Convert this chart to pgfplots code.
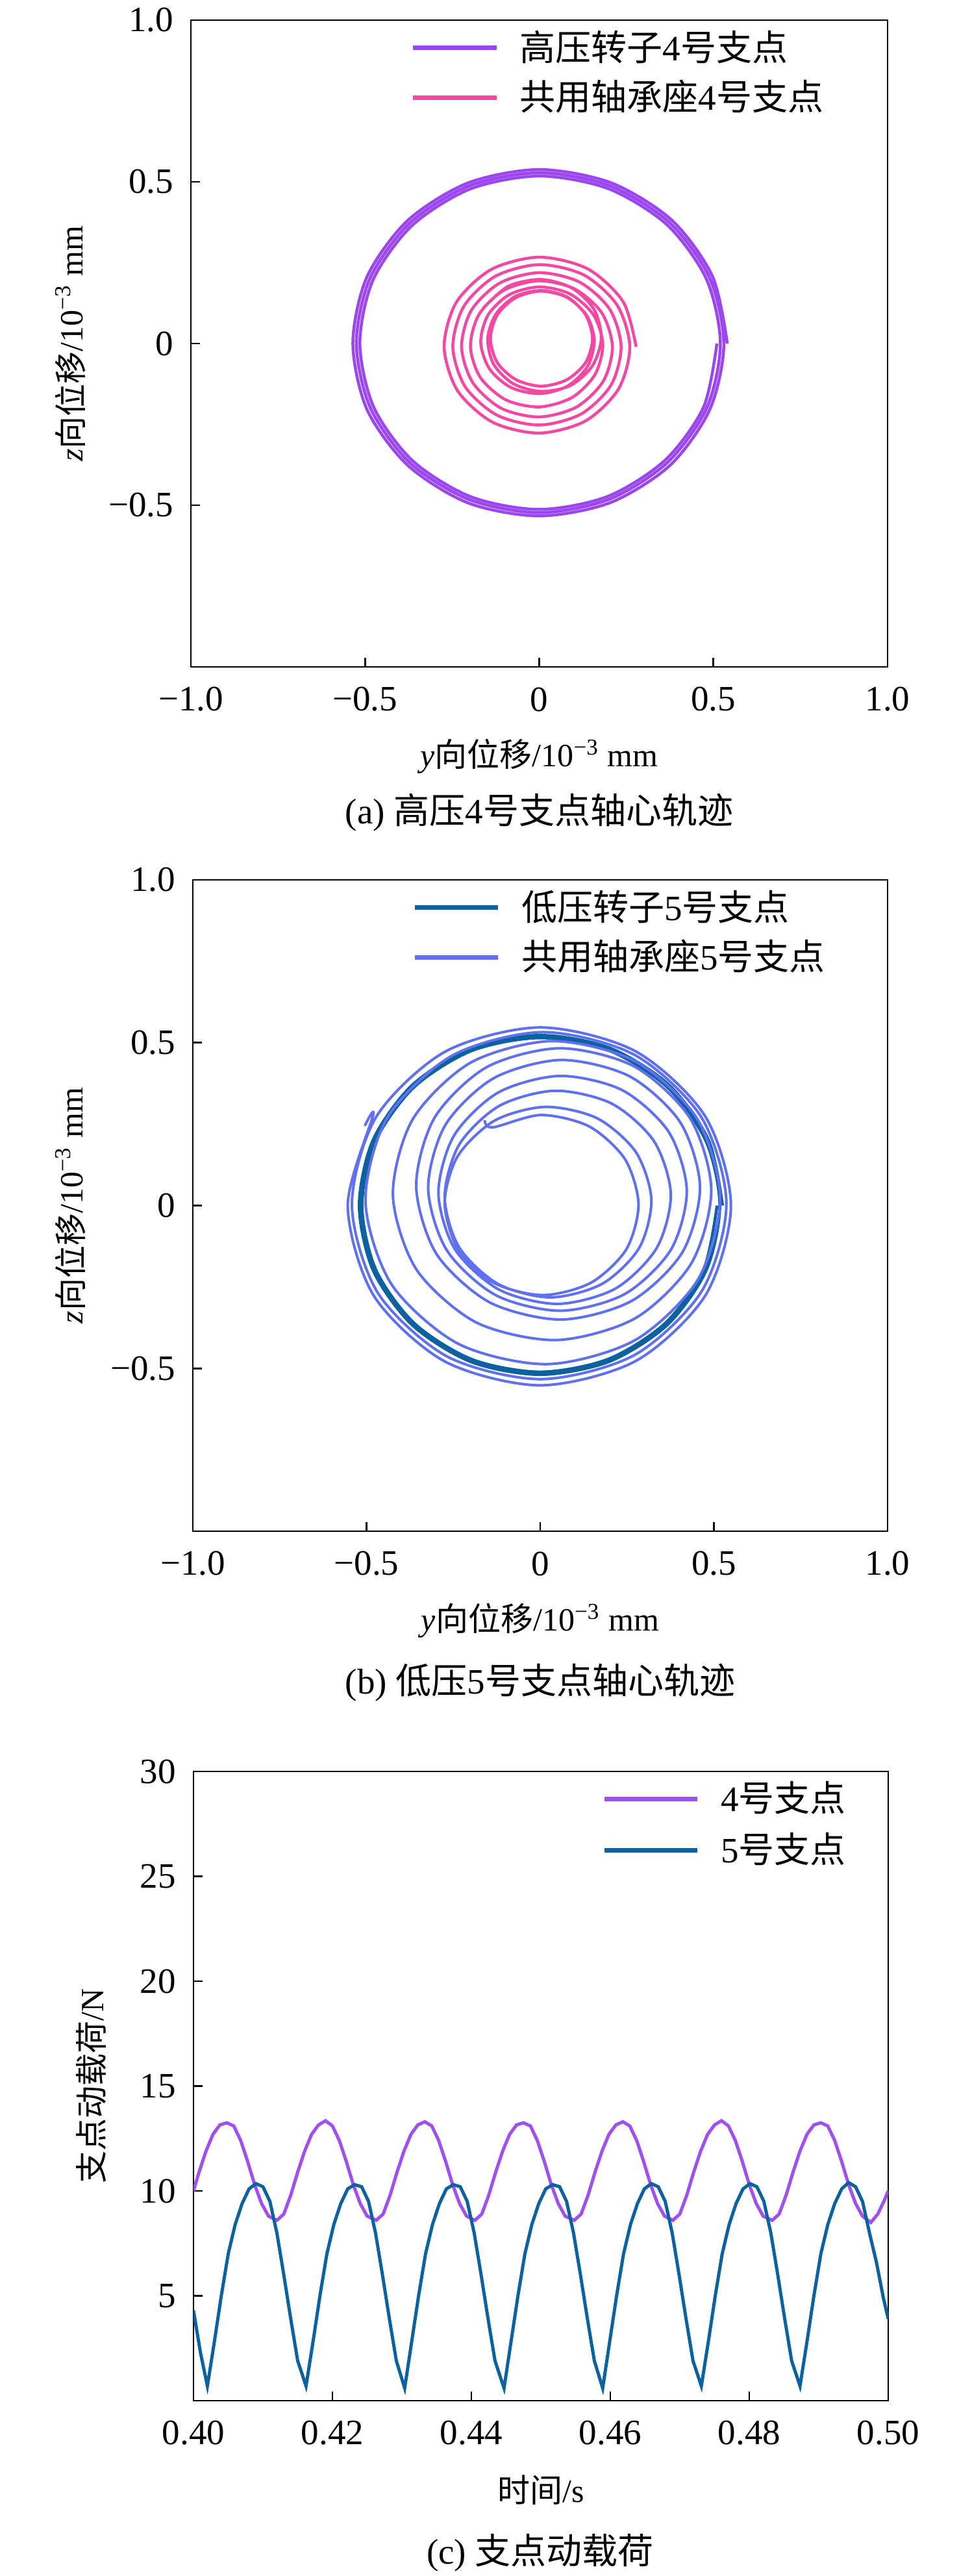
\documentclass[border=0pt]{standalone}
\usepackage{fontspec}
\setmainfont{Liberation Serif}
\newfontfamily\cjk{Noto Sans CJK SC}
\usepackage{pgfplots}
\pgfplotsset{compat=1.18}

\definecolor{cPurple}{RGB}{155,70,240}
\definecolor{cPink}{RGB}{245,72,162}
\definecolor{cDark}{RGB}{12,98,160}
\definecolor{cPeri}{RGB}{95,112,240}
\definecolor{cPurpleC}{RGB}{160,80,240}

\newcommand{\fs}{\fontsize{11}{13}\selectfont}

\pgfplotsset{
 myax/.style={
  scale only axis, anchor=north west,
  axis line style={line width=0.55pt},
  every tick/.style={black, line width=0.55pt},
  tick align=inside, major tick length=2.8pt,
  xtick pos=bottom, ytick pos=left,
  tick label style={font=\fs},
  xticklabel style={anchor=center, yshift=-10pt},
  yticklabel style={anchor=east, xshift=-1.9pt},
  label style={font=\fs},
  every axis x label/.style={at={([yshift=-27.6pt]axis description cs:0.5,0)}, anchor=center},
  legend cell align=left,
  legend style={draw=none, fill=none, inner sep=0pt, font=\fs, row sep=4.5pt,
     nodes={inner sep=0pt},
     /tikz/every odd column/.append style={column sep=6.6pt}},
  legend image code/.code={\draw[#1, line width=1.4pt] (0pt,0pt) -- (25.6pt,0pt);},
 }
}

\begin{document}
\begin{tikzpicture}
\useasboundingbox (0,0) rectangle (295.2pt,-793.4pt);

% ---------------- (a) ----------------
\begin{axis}[myax, at={(58.8pt,-6.2pt)}, width=214.6pt, height=199.2pt,
  xmin=-1, xmax=1, ymin=-1, ymax=1,
  xtick={-1,-0.5,0,0.5,1}, xticklabels={−1.0,−0.5,0,0.5,1.0},
  ytick={-0.5,0,0.5,1}, yticklabels={−0.5,0,0.5,1.0},
  xlabel={\textit{y}{\cjk 向位移}/10\textsuperscript{−3} mm},
  ylabel={\textit{z}{\cjk 向位移}/10\textsuperscript{−3} mm},
  every axis y label/.style={at={([xshift=-37.2pt]axis description cs:0,0.5)}, anchor=center, rotate=90},
  legend style={at={(axis description cs:0.315,0.985)}, anchor=north west},
]
\addplot[cPurple, line width=0.9pt, smooth] coordinates {
(0.540,0) (0.498,0.206) (0.381,0.381) (0.206,0.497) (0,0.538) (-0.206,0.496) (-0.379,0.379) (-0.495,0.205)
(-0.535,0) (-0.494,-0.205) (-0.377,-0.377) (-0.204,-0.493) (0,-0.533) (0.204,-0.492) (0.376,-0.376) (0.490,-0.203)
(0.530,0) (0.489,0.203) (0.374,0.374) (0.202,0.488) (0,0.528) (-0.202,0.487) (-0.372,0.372) (-0.486,0.201)
(-0.525,0) (-0.484,-0.201) (-0.370,-0.370) (-0.200,-0.483) (0,-0.523) (0.200,-0.482) (0.368,-0.368) (0.481,-0.199)
(0.520,0) (0.480,0.199) (0.367,0.367) (0.198,0.479) (0,0.518) (-0.198,0.478) (-0.365,0.365) (-0.477,0.197)
(-0.515,0) (-0.475,-0.197) (-0.363,-0.363) (-0.196,-0.474) (0,-0.513) (0.196,-0.473) (0.361,-0.361) (0.472,-0.196)
(0.510,0)
};
\addlegendentry{{\cjk 高压转子}4{\cjk 号支点}}
\addplot[cPink, line width=0.9pt, smooth] coordinates {
(-0.160,0.110) (-0.089,0.177) (0.005,0.198) (0.095,0.171) (0.158,0.104) (0.178,0.015) (0.152,-0.070) (0.089,-0.130)
(0.005,-0.148) (-0.075,-0.124) (-0.131,-0.064) (-0.148,0.015)
(-0.125,0.090) (-0.070,0.145) (0.005,0.164) (0.080,0.144) (0.133,0.089) (0.153,0.015) (0.133,-0.059) (0.079,-0.112)
(0.005,-0.132) (-0.068,-0.111) (-0.121,-0.058) (-0.140,0.015)
(-0.121,0.0875) (-0.069,0.141) (0.004,0.162) (0.079,0.143) (0.136,0.087) (0.158,0.010) (0.139,-0.070) (0.082,-0.131)
(0.002,-0.155) (-0.081,-0.136) (-0.143,-0.078) (-0.168,0.004)
(-0.147,0.088) (-0.086,0.151) (0,0.175) (0.089,0.153) (0.156,0.088) (0.1825,-0.003) (0.160,-0.096) (0.094,-0.167)
(0,-0.196) (-0.096,-0.174) (-0.169,-0.105) (-0.1975,-0.009)
(-0.173,0.090) (-0.101,0.165) (0,0.194) (0.103,0.168) (0.180,0.094) (0.210,-0.010) (0.184,-0.116) (0.1075,-0.196)
(0,-0.227) (-0.1095,-0.200) (-0.191,-0.1205) (-0.223,-0.010)
(-0.195,0.1025) (-0.1135,0.187) (0,0.219) (0.1155,0.190) (0.202,0.1065) (0.235,-0.010) (0.2057,-0.129) (0.120,-0.218)
(0,-0.252) (-0.122,-0.221) (-0.213,-0.133) (-0.248,-0.010)
(-0.2165,0.115) (-0.126,0.208) (0,0.244) (0.128,0.212) (0.2234,0.119) (0.260,-0.010) (0.2273,-0.141) (0.1325,-0.2395)
(0,-0.277) (-0.1345,-0.243) (-0.2347,-0.1455) (-0.273,-0.010)
(-0.238,0.1275) (-0.138,0.229) (0,0.267) (0.139,0.231) (0.241,0.129) (0.278,-0.010)
};
\addlegendentry{{\cjk 共用轴承座}4{\cjk 号支点}}
\end{axis}
\node[font=\fs] at (166.1pt,-250.2pt) {(a) {\cjk 高压}4{\cjk 号支点轴心轨迹}};

% ---------------- (b) ----------------
\begin{axis}[myax, at={(59.4pt,-271pt)}, width=214pt, height=200.6pt,
  xmin=-1, xmax=1, ymin=-1, ymax=1,
  xtick={-1,-0.5,0,0.5,1}, xticklabels={−1.0,−0.5,0,0.5,1.0},
  ytick={-0.5,0,0.5,1}, yticklabels={−0.5,0,0.5,1.0},
  xlabel={\textit{y}{\cjk 向位移}/10\textsuperscript{−3} mm},
  ylabel={\textit{z}{\cjk 向位移}/10\textsuperscript{−3} mm},
  every axis y label/.style={at={([xshift=-37.8pt]axis description cs:0,0.5)}, anchor=center, rotate=90},
  legend style={at={(axis description cs:0.315,0.985)}, anchor=north west},
]
\addplot[cDark, line width=0.9pt, smooth] coordinates {
(0.525,0) (0.4846,0.2009) (0.3705,0.3705) (0.2005,0.4837) (0,0.523) (-0.2001,0.4828) (-0.3691,0.3691) (-0.4819,0.1997)
(-0.521,0) (-0.4809,-0.1993) (-0.3676,-0.3676) (-0.1990,-0.4800) (0,-0.519) (0.1986,-0.4791) (0.3662,-0.3662) (0.4782,-0.1982)
(0.517,0) (0.4772,0.1978) (0.3648,0.3648) (0.1974,0.4763) (0,0.515) (-0.1971,0.4754) (-0.3634,0.3634) (-0.4745,0.1967)
(-0.513,0) (-0.4735,-0.1963) (-0.3620,-0.3620) (-0.1959,-0.4726) (0,-0.511) (0.1955,-0.4717) (0.3606,-0.3606) (0.4707,-0.1950)
(0.509,0)
};
\addlegendentry{{\cjk 低压转子}5{\cjk 号支点}}
\addplot[cPeri, line width=0.8pt, smooth] coordinates {
(-0.505,0.245) (-0.481,0.278) (-0.554,0) (-0.479,-0.277) (-0.276,-0.478) (0,-0.552) (0.2755,-0.477) (0.476,-0.275) (0.549,0)
(0.475,0.274) (0.274,0.474) (0,0.547) (-0.273,0.473)
(-0.472,0.2725) (-0.542,0.001) (-0.467,-0.269) (-0.267,-0.464) (0.003,-0.533) (0.2715,-0.459) (0.466,-0.261) (0.536,0.006)
(0.464,0.271) (0.271,0.463) (0.008,0.5325) (-0.252,0.4613)
(-0.440,0.270) (-0.503,0.012) (-0.428,-0.242) (-0.236,-0.4245) (0.020,-0.487) (0.272,-0.414) (0.454,-0.2275) (0.518,0.022)
(0.4515,0.267) (0.274,0.443) (0.035,0.505) (-0.200,0.439)
(-0.367,0.265) (-0.424,0.0325) (-0.3565,-0.196) (-0.184,-0.359) (0.047,-0.413) (0.273,-0.3465) (0.435,-0.1775) (0.4925,0.0475)
(0.4315,0.268) (0.271,0.427) (0.057,0.483) (-0.154,0.425)
(-0.304,0.27) (-0.357,0.060) (-0.299,-0.148) (-0.146,-0.297) (0.06,-0.350) (0.263,-0.293) (0.409,-0.144) (0.460,0.057)
(0.4035,0.255) (0.257,0.397) (0.06,0.447) (-0.134,0.391)
(-0.273,0.2475) (-0.3225,0.054) (-0.269,-0.137) (-0.129,-0.2746) (0.058,-0.323) (0.243,-0.272) (0.376,-0.136) (0.422,0.046)
(0.370,0.226) (0.236,0.3545) (0.056,0.398) (-0.121,0.347)
(-0.248,0.215) (-0.293,0.039) (-0.2456,-0.134) (-0.119,-0.258) (0.05,-0.302) (0.2165,-0.255) (0.335,-0.131) (0.376,0.034)
(0.328,0.197) (0.206,0.313) (0.0425,0.3525) (-0.118,0.306)
(-0.233,0.1875) (-0.275,0.028) (-0.2335,-0.128) (-0.121,-0.241) (0.03,-0.282) (0.179,-0.240) (0.285,-0.13) (0.32,0.018)
(0.2755,0.164) (0.164,0.268) (0.015,0.303) (-0.131,0.261)
(-0.237,0.1525) (-0.275,0.009) (-0.237,-0.133) (-0.134,-0.237) (0.007,-0.275) (0.146,-0.237) (0.2475,-0.135) (0.283,0.004)
(0.244,0.1425) (0.141,0.243) (0.002,0.278) (-0.137,0.240) (-0.160,0.262)
};
\addlegendentry{{\cjk 共用轴承座}5{\cjk 号支点}}
\end{axis}
\node[font=\fs] at (166.4pt,-518.2pt) {(b) {\cjk 低压}5{\cjk 号支点轴心轨迹}};

% ---------------- (c) ----------------
\begin{axis}[myax, at={(59.6pt,-545.6pt)}, width=214pt, height=193.8pt,
  xmin=0.4, xmax=0.5, ymin=0, ymax=30,
  xtick={0.4,0.42,0.44,0.46,0.48,0.5}, xticklabels={0.40,0.42,0.44,0.46,0.48,0.50},
  ytick={5,10,15,20,25,30}, yticklabels={5,10,15,20,25,30},
  xlabel={{\cjk 时间}/s},
  ylabel={{\cjk 支点动载荷}/N},
  every axis y label/.style={at={([xshift=-31.4pt]axis description cs:0,0.5)}, anchor=center, rotate=90},
  legend style={at={(axis description cs:0.587,0.985)}, anchor=north west, row sep=5pt},
  legend image code/.code={\draw[#1, line width=1.4pt] (0pt,0pt) -- (28.6pt,0pt);},
]
\addplot[cPurpleC, line width=1pt] table {
0.4000 10.0
0.4008 10.9
0.4018 11.9
0.4028 12.7
0.4038 13.15
0.4048 13.25
0.4058 13.1
0.4068 12.4
0.4078 11.4
0.4088 10.3
0.4098 9.4
0.4108 8.8
0.4120 8.6
0.4130 8.9
0.4140 9.8
0.4150 10.9
0.4160 11.9
0.4170 12.7
0.4180 13.15
0.4190 13.35
0.4200 13.1
0.4210 12.4
0.4220 11.4
0.4230 10.3
0.4240 9.4
0.4250 8.8
0.4263 8.6
0.4273 8.9
0.4283 9.8
0.4293 10.9
0.4303 11.9
0.4313 12.7
0.4323 13.15
0.4333 13.3
0.4343 13.1
0.4353 12.4
0.4363 11.4
0.4373 10.3
0.4383 9.4
0.4393 8.8
0.4405 8.6
0.4415 8.9
0.4425 9.8
0.4435 10.9
0.4445 11.9
0.4455 12.7
0.4465 13.15
0.4475 13.25
0.4485 13.1
0.4495 12.4
0.4505 11.4
0.4515 10.3
0.4525 9.4
0.4535 8.8
0.4548 8.6
0.4558 8.9
0.4568 9.8
0.4578 10.9
0.4588 11.9
0.4598 12.7
0.4608 13.15
0.4618 13.3
0.4628 13.1
0.4638 12.4
0.4648 11.4
0.4658 10.3
0.4668 9.4
0.4678 8.8
0.4690 8.6
0.4700 8.9
0.4710 9.8
0.4720 10.9
0.4730 11.9
0.4740 12.7
0.4750 13.15
0.4760 13.35
0.4770 13.1
0.4780 12.4
0.4790 11.4
0.4800 10.3
0.4810 9.4
0.4820 8.8
0.4833 8.6
0.4843 8.9
0.4853 9.8
0.4863 10.9
0.4873 11.9
0.4883 12.7
0.4893 13.15
0.4903 13.25
0.4913 13.1
0.4923 12.4
0.4933 11.4
0.4943 10.3
0.4953 9.4
0.4963 8.8
0.4975 8.5
0.4985 8.9
0.4995 9.6
0.5000 10.0
};
\addlegendentry{4{\cjk 号支点}}
\addplot[cDark, line width=1pt] table {
0.4000 4.3
0.4010 2.3
0.4020 0.7
0.4030 2.8
0.4040 5.0
0.4050 7.0
0.4060 8.4
0.4070 9.4
0.4080 10.1
0.4090 10.35
0.4100 10.2
0.4110 9.5
0.4120 8.0
0.4130 6.0
0.4140 3.9
0.4150 1.9
0.4162 0.7
0.4172 2.8
0.4182 5.0
0.4192 7.0
0.4202 8.4
0.4212 9.4
0.4222 10.1
0.4232 10.3
0.4242 10.2
0.4252 9.5
0.4262 8.0
0.4272 6.0
0.4282 3.9
0.4292 1.9
0.4304 0.6
0.4314 2.8
0.4324 5.0
0.4334 7.0
0.4344 8.4
0.4354 9.4
0.4364 10.1
0.4374 10.3
0.4384 10.2
0.4394 9.5
0.4404 8.0
0.4414 6.0
0.4424 3.9
0.4434 1.9
0.4447 0.6
0.4457 2.8
0.4467 5.0
0.4477 7.0
0.4487 8.4
0.4497 9.4
0.4507 10.1
0.4517 10.3
0.4527 10.2
0.4537 9.5
0.4547 8.0
0.4557 6.0
0.4567 3.9
0.4577 1.9
0.4589 0.6
0.4599 2.8
0.4609 5.0
0.4619 7.0
0.4629 8.4
0.4639 9.4
0.4649 10.1
0.4659 10.35
0.4669 10.2
0.4679 9.5
0.4689 8.0
0.4699 6.0
0.4709 3.9
0.4719 1.9
0.4731 0.7
0.4741 2.8
0.4751 5.0
0.4761 7.0
0.4771 8.4
0.4781 9.4
0.4791 10.1
0.4801 10.35
0.4811 10.2
0.4821 9.5
0.4831 8.0
0.4841 6.0
0.4851 3.9
0.4861 1.9
0.4873 0.7
0.4883 2.8
0.4893 5.0
0.4903 7.0
0.4913 8.4
0.4923 9.4
0.4933 10.1
0.4943 10.4
0.4953 10.2
0.4963 9.5
0.4973 8.0
0.4983 6.6
0.4993 4.9
0.5000 3.9
};
\addlegendentry{5{\cjk 号支点}}
\end{axis}
\node[font=\fs] at (166.4pt,-786.2pt) {(c) {\cjk 支点动载荷}};
\end{tikzpicture}
\end{document}
